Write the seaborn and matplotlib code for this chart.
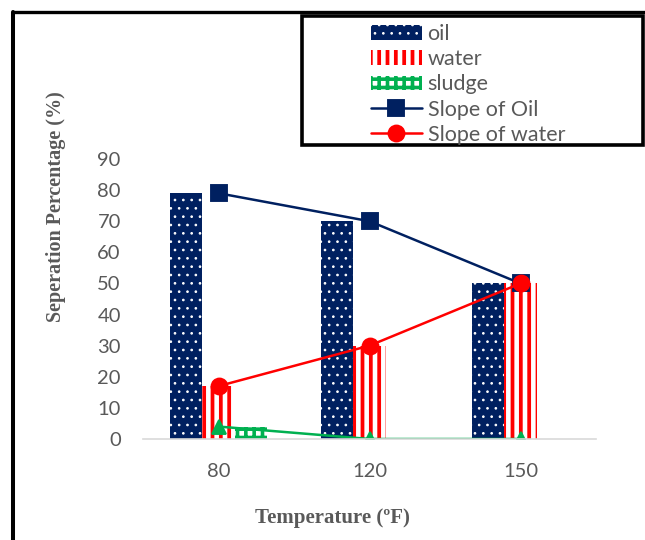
import pandas as pd
import matplotlib.pyplot as plt
import seaborn as sns
from matplotlib.lines import Line2D
from matplotlib.patches import Rectangle

temps = ["80", "120", "150"]
oil = [79, 70, 50]
water = [17, 30, 50]
sludge = [4, 0, 0]
slope_oil = [79, 70, 50]
slope_water = [17, 30, 50]
slope_sludge = [4, 0, 0]
phases = ["oil", "water", "sludge"]

navy = "#002060"
red = "#FF0000"
green = "#00B050"
grey_txt = "#595959"

df = pd.DataFrame({
    "Temperature": temps * 3,
    "Percent": oil + water + sludge,
    "Phase": [p for p in phases for _ in temps],
})

sns.set_style("white")
plt.rcParams["font.family"] = ["Lato", "DejaVu Sans"]
# thick hatch strokes for the striped / chequered bars
plt.rcParams["hatch.linewidth"] = 2.7

fig = plt.figure(figsize=(6.45, 5.4), dpi=100)
ax = fig.add_axes([143 / 645, 1 - 439 / 540, 453 / 645, 280 / 540])

sns.barplot(
    data=df, x="Temperature", y="Percent", hue="Phase",
    palette=[navy, red, green], width=0.64, gap=0,
    saturation=1, errorbar=None, legend=False, ax=ax,
)

# patterns: dotted navy, red stripes, green squares
styles = [
    (navy, "white", "..", 0.7),
    ("white", red, "||", 2.7),
    ("white", green, "++", 2.6),
]
for cont, (fc, hc, hatch, hlw) in zip(ax.containers, styles):
    for p in cont:
        p.set_hatch(hatch)
        p.set_facecolor(fc)
        p.set_edgecolor(hc)
        p.set_linewidth(0)
        p.set_hatch_linewidth(hlw)

sns.pointplot(x=temps, y=slope_oil, color=navy, marker="s", markersize=11,
              linewidth=1.8, errorbar=None, ax=ax)
sns.pointplot(x=temps, y=slope_water, color=red, marker="o", markersize=11.5,
              linewidth=1.8, errorbar=None, ax=ax)
sns.pointplot(x=temps, y=slope_sludge, color=green, marker="^", markersize=10,
              linewidth=1.8, errorbar=None, ax=ax)

ax.set_xlim(-0.5, 2.5)
ax.set_ylim(0, 90)
ax.set_yticks(range(0, 100, 10))
ax.tick_params(length=0, labelsize=14.5, labelcolor=grey_txt)
ax.tick_params(axis="y", pad=16)
ax.tick_params(axis="x", pad=17)
sns.despine(ax=ax, left=True)
ax.spines["bottom"].set_color("#D9D9D9")
ax.spines["bottom"].set_linewidth(1.2)

ax.set_ylabel("Seperation Percentage (%)", family="Liberation Serif",
              weight="bold", fontsize=14.5, color=grey_txt)
ax.set_xlabel("Temperature (ºF)", family="Liberation Serif",
              weight="bold", fontsize=15, color=grey_txt)
ax.yaxis.set_label_coords(-0.17, 0.829)
ax.xaxis.set_label_coords(0.419, -0.245)

handles = [c for c in ax.containers] + list(ax.lines[:2])
labels = ["oil", "water", "sludge", "Slope of Oil", "Slope of water"]
leg = fig.legend(handles, labels, loc="upper left",
                 bbox_to_anchor=(371 / 645, 1 - 24 / 540), frameon=False,
                 fontsize=15.5, labelcolor=grey_txt, handlelength=2.35,
                 handleheight=0.65, handletextpad=0.28, labelspacing=0.24,
                 borderpad=0, borderaxespad=0)
for h, (_, _, _, hlw) in zip(leg.legend_handles[:3], styles):
    h.set_hatch_linewidth(hlw)
    h.set_linewidth(0)

# legend box and outer frame
fig.add_artist(Rectangle((302 / 645, 1 - 145.5 / 540), 341 / 645, 129 / 540,
                         transform=fig.transFigure, fill=False,
                         edgecolor="black", linewidth=2.6))
fig.add_artist(Line2D([13 / 645, 13 / 645], [0, 1 - 11.5 / 540],
                      transform=fig.transFigure, color="black", linewidth=2.9))
fig.add_artist(Line2D([13 / 645, 1], [1 - 11.5 / 540, 1 - 11.5 / 540],
                      transform=fig.transFigure, color="black", linewidth=2.4))

fig.savefig("out.png", dpi=100)
